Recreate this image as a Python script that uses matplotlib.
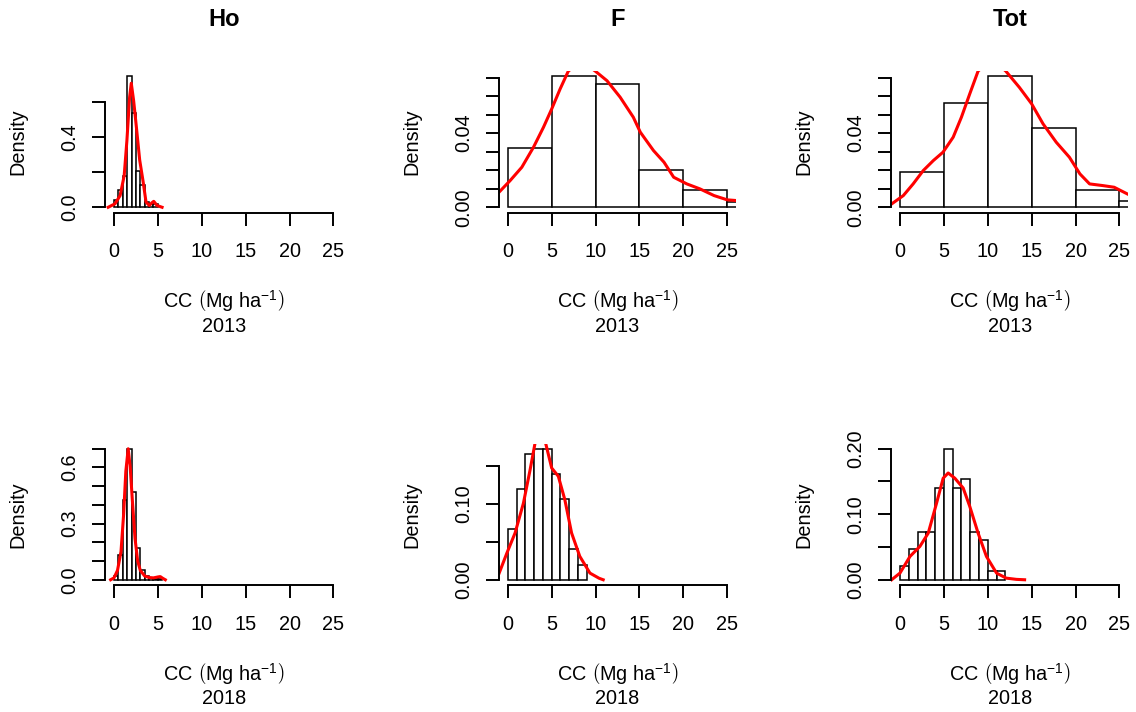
import numpy as np
import matplotlib.pyplot as plt

plt.rcParams['font.family'] = 'Liberation Sans'
plt.rcParams['mathtext.fontset'] = 'custom'
plt.rcParams['mathtext.rm'] = 'Liberation Sans'
plt.rcParams['mathtext.it'] = 'Liberation Sans:italic'
plt.rcParams['mathtext.bf'] = 'Liberation Sans:bold'

W, H = 1136, 712

## Data
# Ho, 2013
ho13_edges = [0, 0.5, 1, 1.5, 2, 2.5, 3, 3.5, 4, 4.5, 5]
ho13_dens = [0.04, 0.10, 0.18, 0.75, 0.54, 0.21, 0.13, 0.03, 0.02, 0.02]
ho13_kx = [-0.66, 0.12, 0.70, 1.16, 1.47, 1.78, 1.97, 2.24, 2.55, 2.93, 3.31, 3.65, 4.03, 4.30, 4.53, 4.91, 5.48]
ho13_ky = [0.0, 0.02, 0.067, 0.18, 0.38, 0.63, 0.71, 0.61, 0.46, 0.27, 0.15, 0.03, 0.01, 0.025, 0.034, 0.01, 0.0]

# F, 2013
f13_edges = [0, 5, 10, 15, 20, 25, 30]
f13_dens = [0.032, 0.0707, 0.0667, 0.020, 0.0093, 0.0027]
f13_kx = [-1.0, 0.27, 1.6, 2.93, 4.07, 5.0, 5.96, 6.9, 8.4, 9.96, 11.3, 12.8, 14.3, 15.1, 16.6, 17.8, 18.9, 20.4, 21.9, 23.5, 25.0, 26.1]
f13_ky = [0.0081, 0.0144, 0.0216, 0.0324, 0.0432, 0.053, 0.0638, 0.0735, 0.079, 0.0735, 0.0683, 0.0594, 0.0486, 0.0405, 0.0306, 0.0243, 0.0162, 0.0126, 0.0099, 0.0063, 0.004, 0.0036]

# Tot, 2013
tot13_edges = [0, 5, 10, 15, 20, 25, 30]
tot13_dens = [0.0189, 0.0561, 0.0707, 0.0426, 0.0094, 0.0036]
tot13_kx = [-0.95, 0.38, 1.5, 2.65, 3.8, 4.9, 6.06, 7.0, 7.95, 8.9, 10.5, 12.05, 13.6, 15.0, 16.3, 17.8, 19.3, 20.5, 21.6, 23.1, 24.4, 25.9]
tot13_ky = [0.0018, 0.0063, 0.0126, 0.0198, 0.0252, 0.0297, 0.0378, 0.0486, 0.0612, 0.0735, 0.080, 0.0735, 0.0647, 0.0558, 0.045, 0.0351, 0.027, 0.018, 0.0126, 0.0117, 0.0108, 0.0072]

# Ho, 2018
ho18_edges = [0, 0.5, 1, 1.5, 2, 2.5, 3, 3.5, 4, 4.5, 5, 5.5]
ho18_dens = [0.02, 0.13, 0.425, 0.70, 0.467, 0.17, 0.05, 0.02, 0.01, 0.005, 0.005]
ho18_kx = [-0.38, 0.0, 0.4, 0.8, 1.1, 1.35, 1.62, 1.85, 2.1, 2.4, 2.7, 3.0, 3.5, 4.0, 4.5, 5.0, 5.27, 5.55, 5.85]
ho18_ky = [0.0, 0.01, 0.05, 0.15, 0.35, 0.58, 0.70, 0.60, 0.42, 0.22, 0.10, 0.05, 0.02, 0.012, 0.01, 0.015, 0.017, 0.008, 0.0]

# F, 2018
f18_edges = [0, 1, 2, 3, 4, 5, 6, 7, 8, 9]
f18_dens = [0.067, 0.12, 0.1665, 0.173, 0.173, 0.14, 0.1066, 0.0405, 0.0198]
f18_kx = [-0.98, -0.11, 0.83, 1.78, 2.54, 3.1, 3.7, 4.32, 5.0, 5.76, 6.5, 7.27, 8.2, 9.36, 10.4, 10.87]
f18_ky = [0.0088, 0.035, 0.0617, 0.101, 0.145, 0.18, 0.19, 0.18, 0.1476, 0.1366, 0.1057, 0.0617, 0.031, 0.0088, 0.002, 0.0]

# Tot, 2018
tot18_edges = [0, 1, 2, 3, 4, 5, 6, 7, 8, 9, 10, 11, 12]
tot18_dens = [0.0204, 0.0468, 0.0733, 0.0733, 0.14, 0.20, 0.14, 0.1537, 0.0733, 0.06, 0.0132, 0.0132]
tot18_kx = [-0.95, 0.0, 1.14, 2.27, 3.22, 4.17, 4.92, 5.49, 6.25, 7.2, 7.95, 8.9, 9.85, 11.0, 12.1, 13.26, 14.2]
tot18_ky = [0.0, 0.0102, 0.0356, 0.0509, 0.0712, 0.117, 0.155, 0.163, 0.155, 0.14, 0.112, 0.0712, 0.0356, 0.0102, 0.0025, 0.0006, 0.0]

x_ticks = [0, 5, 10, 15, 20, 25]

ho13_yticks = [0.0, 0.2, 0.4, 0.6]
ho13_ylabels = ['0.0', '', '0.4', '']
f13_yticks = [0.0, 0.01, 0.02, 0.03, 0.04, 0.05, 0.06, 0.07]
f13_ylabels = ['0.00', '', '', '', '0.04', '', '', '']
ho18_yticks = [0.0, 0.1, 0.2, 0.3, 0.4, 0.5, 0.6, 0.7]
ho18_ylabels = ['0.0', '', '', '0.3', '', '', '0.6', '']
f18_yticks = [0.0, 0.05, 0.10, 0.15]
f18_ylabels = ['0.00', '', '0.10', '']
tot18_yticks = [0.0, 0.05, 0.10, 0.15, 0.20]
tot18_ylabels = ['0.00', '', '0.10', '', '0.20']

titles = ['Ho', 'F', 'Tot']
years = ['2013', '2018']

panels = [
    [(ho13_edges, ho13_dens, ho13_kx, ho13_ky, ho13_yticks, ho13_ylabels),
     (f13_edges, f13_dens, f13_kx, f13_ky, f13_yticks, f13_ylabels),
     (tot13_edges, tot13_dens, tot13_kx, tot13_ky, f13_yticks, f13_ylabels)],
    [(ho18_edges, ho18_dens, ho18_kx, ho18_ky, ho18_yticks, ho18_ylabels),
     (f18_edges, f18_dens, f18_kx, f18_ky, f18_yticks, f18_ylabels),
     (tot18_edges, tot18_dens, tot18_kx, tot18_ky, tot18_yticks, tot18_ylabels)],
]

## Layout (pixels)
col_left = [105.2, 499.0, 891.2]
row_top = [71.0, 443.5]
ax_w, ax_h = 237.0, 141.5

fig = plt.figure(figsize=(W / 100, H / 100), dpi=100)


def fx(px):
    return px / W


def fy(py):
    return 1 - py / H


FS = 14.3
xlab = r'CC $\left(\mathrm{Mg\ ha}^{-1}\right)$'

for r in range(2):
    for c in range(3):
        edges, dens, kx, ky, yt, yl = panels[r][c]
        left, top = col_left[c], row_top[r]
        ax = fig.add_axes([fx(left), fy(top + ax_h), ax_w / W, ax_h / H])
        edges = np.asarray(edges)
        ax.bar(edges[:-1], dens, width=np.diff(edges), align='edge',
               facecolor='white', edgecolor='black', linewidth=1.1)
        ax.plot(kx, ky, color='#ff0000', linewidth=2.2)
        m = max(dens)
        ax.set_xlim(-1, 26)
        ax.set_ylim(-0.04 * m, 1.04 * m)
        for s in ['top', 'right']:
            ax.spines[s].set_visible(False)
        ax.spines['bottom'].set_bounds(0, 25)
        ax.spines['left'].set_bounds(yt[0], yt[-1])
        for s in ['bottom', 'left']:
            ax.spines[s].set_linewidth(1.4)
        ax.set_xticks(x_ticks)
        ax.set_xticklabels([str(t) for t in x_ticks])
        ax.set_yticks(yt)
        ax.set_yticklabels(yl, rotation=90, va='center')
        ax.tick_params(axis='both', length=9.4, width=1.4, labelsize=FS, direction='out')
        ax.tick_params(axis='x', pad=12)
        ax.tick_params(axis='y', pad=9)
        bottom = top + ax_h
        cx = left + ax_w / 2
        fig.text(fx(left - 87), fy(top + ax_h / 2), 'Density', rotation=90,
                 ha='center', va='center', fontsize=FS)
        fig.text(fx(cx), fy(bottom + 95.5), xlab, ha='center', va='baseline', fontsize=FS)
        fig.text(fx(cx), fy(bottom + 119.5), years[r], ha='center', va='baseline', fontsize=FS)
        if r == 0:
            fig.text(fx(cx), fy(20), titles[c], ha='center', va='center',
                     fontsize=17, fontweight='bold')

fig.savefig('out.png', dpi=100, facecolor='white')
